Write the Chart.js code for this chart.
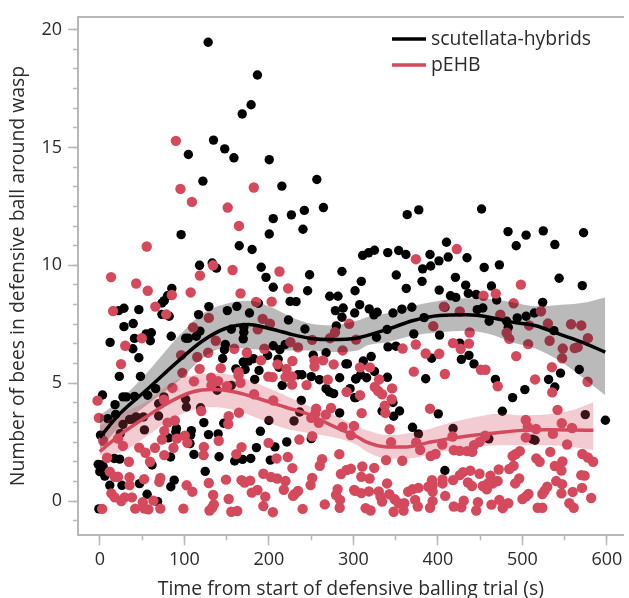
<!DOCTYPE html>
<html>
<head>
<meta charset="utf-8">
<title>Defensive ball</title>
<script src="https://cdn.jsdelivr.net/npm/chart.js@4/dist/chart.umd.min.js"></script>
<style>
  html, body { margin: 0; padding: 0; background: #fff; }
  #wrap { width: 629px; height: 598px; }
</style>
</head>
<body>
<div id="wrap"><canvas id="ball"></canvas></div>
<script>
// points: [time in s, bees in ball]
const hybridPoints = [
[128.2,19.46],[186.5,18.07],[179,16.81],[168.5,16.42],[134.5,15.31],[147.8,14.94],[104.8,14.7],[158.7,14.56],[200.5,14.48],[122,13.57],
[215.4,13.36],[256.8,13.64],[264.6,12.45],[242,12.33],[226.7,12.14],[205.2,11.98],[240.4,11.53],[200.5,11.33],[96.2,11.3],[165,10.83],
[180.2,10.67],[118,10],[133,10.1],[138,9.88],[191,9.92],[196.6,9.49],[248.2,9.6],[286.5,9.74],
[363.7,12.15],[377.4,12.35],[451.7,12.39],[483,11.43],[524.7,11.46],[572.4,11.38],[504.4,11.28],[492.7,10.83],[538.4,10.88],[410.2,10.98],
[390.7,10.46],[412.2,10.35],[401.3,10.19],[391.5,9.97],[382,9.85],[434.5,10.32],[454.8,9.91],[472.8,10.02],[311,10.42],[318,10.53],
[325,10.64],[340.7,10.54],[353.6,10.63],[362.2,10.46],[350.8,9.59],[420.8,9.49],[381.3,9.32],[543.5,9.45],[309.4,9.32],
[85.2,9.02],[80.2,8.71],[76.3,8.5],[73.5,8.4],[205.2,9.07],[245.9,8.92],[272,8.69],[281.8,8.69],[302,8.92],[225.2,8.47],
[232.2,8.46],[187.6,8.39],[129,8.25],[162.2,8.26],[150.9,8.08],[177.1,7.98],[46.2,8.12],[28.6,8.18],[22.3,8.08],[73.5,7.92],
[82.1,7.84],[116.9,7.91],[288,8.19],[278.7,8.08],[286.5,7.8],[223.2,7.68],[28.6,7.4],[39.5,7.53],[279.9,7.43],[242.7,7.3],
[155.6,7.29],[170.4,7.37],[170.4,7.16],[169.7,6.88],[118.5,7.21],[114.2,6.99],[101.6,6.91],[104.8,6.91],[84.5,6.99],[61,7.14],
[54.8,7.09],[41,6.9],[59.8,6.8],[12.2,6.73],[39.1,6.46],[46.2,6.08],[148.5,6.64],[147.4,6.42],[145.4,6.05],[205.2,6.59],
[213,6.42],[219.3,6.64],[198.6,6.18],[211,6.02],[252.5,6.19],[267.7,6.29],[291.2,5.82],[169.7,5.9],[175.9,5.94],[181.8,6.04],
[161,5.61],[172,5.58],[188.4,5.54],[211.9,5.68],[23.1,5.29],[48.1,5.29],[183.3,5.16],[234.5,5.36],[239.2,5.36],[250.2,5.28],
[259.9,5.15],[283.8,5.23],[303,5.18],[215.8,4.91],[155.6,4.91],[66.1,4.77],[56.7,4.49],[3.2,4.5],[27.4,4.42],[31.3,4.42],
[41.1,4.44],[267.7,4.77],[271.6,4.63],[276.7,4.56],[303,4.39],[138.8,4.7],[101.6,4.32],[75.9,4.42],[18,4.09],[69.6,4.13],
[102.4,3.99],[119.2,3.96],[238.4,4.27],[236.5,3.78],[283.8,3.74],[18.8,3.68],[9.4,3.5],[43,3.57],[35.2,3.46],[39.1,3.47],
[51.6,3.57],[27.4,3.25],[69.6,3.61],[123.1,3.33],[146.6,3.3],[200.1,3.42],[229.8,3.4],[52.8,3.02],[90.7,3.08],[89.9,2.94],
[108.3,2.99],[107.5,2.8],[128.6,2.82],[140,2.85],[190,2.96],[24.3,2.87],[0.8,2.8],[81.3,2.68],[221.2,2.51],[250.2,2.65],
[106.7,2.44],[207.2,2.3],[185.3,2.27],[111.4,1.98],[141.1,1.88],[83.7,1.87],[159.5,1.7],[168.9,1.77],[178.6,1.81],[201.7,1.74],
[17.2,1.81],[23.5,1.78],[2,1.53],[-1.9,1.56],[4,1.46],[61.8,1.53],[0,1.25],[5.9,1.06],[124.7,1.26],[88,0.89],
[84,0.61],[11.8,0.67],[26.2,0.67],[47,0.74],[56,0.29],[68.4,-0.02],[-1.1,-0.33],
[362.6,9.02],[401.6,8.95],[432.9,9.16],[436,8.81],[445.4,8.76],[463.4,9.12],[570.9,9.14],[414.9,8.71],[421.2,8.64],[469.6,8.53],
[524,8.43],[307.5,8.33],[301.6,7.98],[318.8,8.15],[328.2,8.01],[324.3,7.9],[346.9,7.98],[357.5,8.14],[369.2,8.22],[408.3,8.22],
[446.6,8.12],[453.2,8.19],[514.2,7.98],[504.4,7.84],[493.9,7.77],[383.7,7.78],[339.9,7.28],[327.4,6.95],[371.5,7.09],[402,7.04],
[460.7,7.63],[481.4,7.63],[483.3,7.37],[537.3,7.23],[341,6.54],[350.4,6.57],[425.9,6.7],[392.7,6.06],[427.8,6.01],[436.8,6.18],
[442.7,5.82],[321.1,6.13],[311.8,5.94],[325,5.5],[293,5.82],[340.3,5.25],[302.8,5.19],[308.6,5.36],[315.7,5.23],[385.6,5.19],
[468.1,5.16],[567.3,5.58],[545.1,5.43],[531,5.16],[538.4,4.84],[502.9,4.73],[488.4,4.39],[296.1,4.77],[301.6,4.39],[346.9,4.18],
[354.7,3.82],[347.7,3.6],[334,3.82],[400.5,3.7],[476.3,3.81],[598.2,3.43],[574.4,3.67],[370,3.13],[377,2.85],[418,3.08],
[460.3,2.64],[515,2.58],[511.8,2.63],[408.3,1.3]
];

const pehbPoints = [
[90,15.28],[95.4,13.24],[109,12.69],[182.2,13.3],[151.3,12.45],[164.6,11.67],[55.5,10.8],[134,10],[157.1,9.8],[212.6,9.74],
[118.5,9.57],[13.3,9.5],[374,10.26],[422.4,10.69],
[43,9.23],[56.7,8.92],[107.5,8.85],[85.2,8.74],[222.8,9.02],[166.5,8.81],[65.7,8.25],[15.7,8.06],[78.6,7.92],[184.9,8.45],
[203.3,8.46],[129,7.77],[192.7,7.73],[201.3,7.52],[110.3,7.37],[186.9,7.29],[295.1,7.52],[278.3,7.16],[272.4,6.91],[49.7,6.91],
[30.1,6.59],[137.2,6.8],[251.3,6.84],[225.5,6.74],[234.5,6.52],[159.1,6.46],[194.7,6.46],[287.3,6.39],[174,6.29],[128.2,6.29],
[96.2,6.19],[115.3,6.11],[190.8,5.97],[227.9,5.94],[254.1,5.97],[264.2,5.97],[25.1,5.81],[276.7,5.8],[254.1,5.71],[210.3,5.8],
[118.1,5.61],[143.1,5.64],[97.7,5.44],[220.9,5.6],[164.2,5.47],[164.2,5.33],[227.5,5.29],[219.7,5.26],[199.4,5.28],[204.4,5.26],
[111.4,5.08],[131.7,5.23],[140,5.09],[132.1,4.91],[150.5,4.87],[166.5,5.02],[227.5,4.94],[244.7,4.92],[269.7,5.15],[86,4.8],
[292,4.63],[-2.7,4.26],[75.9,4.3],[182.5,4.53],[205.2,4.27],[256,3.92],[254.9,3.71],[120,3.82],[273.6,3.95],[-1.1,3.53],
[164.6,3.75],[152.5,3.6],[267.4,3.67],[250.2,3.53],[259.1,3.32],[80.2,3.33],[88.8,3.42],[152,3.27],[287.3,3.15],[297,2.8],
[76.3,2.98],[4,2.56],[21.5,2.65],[27.4,2.34],[73.5,2.61],[91.1,2.65],[100.5,2.77],[103.6,2.47],[140.7,2.56],[251.3,2.75],
[236.1,2.61],[199.7,2.47],[46.6,2.27],[54,2.05],[65.3,2.26],[87.2,2.26],[123.1,2.3],[167.7,2.29],[76.3,1.95],[122.8,1.95],
[161.5,1.99],[283.4,1.99],[8.6,1.84],[209.1,1.81],[222.4,1.87],[263,1.78],[260.3,1.5],[34.4,1.67],[59.4,1.67],[227.9,1.4],
[297,1.37],[292,1.32],[285.3,1.15],[11.8,1.25],[193.5,1.16],[202.5,1.02],[209.9,0.96],[219.7,0.85],[251.3,0.98],[249.4,0.68],
[17.6,1.03],[21.5,1.03],[35.2,1.01],[52.4,0.93],[71.6,0.98],[70.4,0.82],[149.3,0.91],[167.7,0.89],[177.9,0.87],[171.2,0.79],
[129,0.77],[35.2,0.68],[102.8,0.67],[109.5,0.4],[217.7,0.48],[234.5,0.43],[230.6,0.3],[228.7,0.22],[186.5,0.47],[179.8,0.36],
[281.4,0.51],[301,0.47],[279.5,0.26],[134.1,0.26],[195.8,0.19],[13.7,0.33],[17.6,0.16],[25.4,0],[29.4,0.16],[38,0.16],
[152.5,0.09],[50.9,-0.05],[63.4,0.02],[284.2,0.05],[266.2,-0.14],[193.5,-0.21],[134.9,-0.14],[132.9,-0.28],[129.8,-0.4],[41.9,-0.32],
[52.8,-0.32],[57.5,-0.35],[71.6,-0.32],[98.9,-0.32],[2.8,-0.33],[155.6,-0.45],[162.6,-0.42],[204.8,-0.47],[240,-0.33],[283.8,-0.28],
[498.2,9.18],[468.5,8.8],[454,8.71],[489.6,8.39],[407.1,8.25],[425.9,8.04],[522,8.05],[473.9,7.91],[530.2,7.53],[557.6,7.5],
[569.7,7.45],[508,7.45],[394.6,7.42],[437.6,7.15],[481.4,7.14],[484.5,6.88],[577.5,6.91],[532.2,6.8],[506.8,6.66],[547.8,6.47],
[565.4,6.53],[561.9,6.49],[418,6.7],[436.8,6.68],[427,6.46],[373.9,6.64],[358.3,6.47],[303.2,6.85],[385.6,6.26],[401.6,6.25],
[492.7,6.15],[547,6.06],[307.9,5.67],[319.6,5.67],[534.9,5.68],[450.9,5.57],[456.4,5.57],[371.5,5.49],[408.3,5.39],[330.5,5.16],
[515,5.16],[577.1,5.06],[470.8,4.87],[325.4,4.84],[345.8,4.78],[329.3,4.67],[334,4.53],[307.9,4.49],[345.4,4.32],[535.3,4.61],
[337.2,4.05],[337.9,3.74],[309.8,3.73],[390.7,3.92],[541.6,3.87],[504,3.44],[546.6,3.3],[558.7,3.1],[300.8,3.19],[343,3.05],
[506.4,3.15],[516.1,3.06],[536.1,2.85],[504,2.7],[456,2.77],[417.3,2.74],[374.3,2.49],[344.6,2.5],[405.2,2.4],[449.3,2.51],
[442.7,2.37],[552.9,2.4],[379,2.17],[418.8,2.16],[425.9,2.13],[434.5,2.12],[440.7,2.09],[397.3,2],[391.5,1.91],[533,2.09],
[570.9,2],[497,2.12],[492.3,2],[488.4,1.91],[577.5,1.85],[583.7,1.67],[338.7,1.74],[357.9,1.71],[516.5,1.81],[520.4,1.67],
[547.4,1.68],[538.4,1.49],[546.2,1.3],[310.6,1.47],[324.7,1.41],[309.4,1.03],[319.2,0.96],[339.9,0.75],[472,1.34],[484.5,1.36],
[489.6,1.5],[438.4,1.29],[449.3,1.16],[462.2,1.08],[429.8,1.23],[425.9,1.1],[418,0.89],[405.5,0.92],[405.5,0.75],[393,0.89],
[496.2,0.96],[491.5,0.75],[435.6,0.79],[440.3,0.64],[470.8,0.85],[465,0.75],[459.1,0.75],[453.2,0.64],[457.9,0.5],[540,0.85],
[547,0.72],[573.6,1.08],[569.7,1.1],[570.5,0.56],[546.2,0.33],[559.5,0.39],[529.4,0.61],[526.3,0.44],[523.6,0.3],[507.2,0.3],
[504,0.19],[500.1,0.09],[581.4,0.13],[302,0.44],[309.4,0.34],[318.4,0.41],[330.1,0.41],[332.1,0.19],[334,-0.02],[342.6,0.29],
[348.9,0.08],[353.6,-0.09],[360.2,-0.09],[364.9,0.4],[370,0.5],[377,0.56],[388.7,0.61],[393.8,0.68],[393.8,0.4],[408.7,0.22],
[373.1,0.05],[376.2,-0.23],[393.8,0],[390.7,-0.28],[430.6,0.02],[427.8,-0.26],[418.8,-0.23],[447.4,-0.05],[445.4,-0.4],[463.4,-0.15],
[472.8,0.05],[483.3,-0.09],[476.7,-0.3],[314.5,-0.3],[320.4,-0.4],[347.7,-0.45],[359.4,-0.4],[518.1,-0.28],[523.6,-0.28],[555.6,-0.09],[560.7,-0.28]
];

// smooth fits and their confidence bands
const hybridTimes = [0,23.5,54.8,93.8,121,148.5,176,203,227,250,273.6,305,316,340,371,402,434,461,488,516,543,570.5,598];
const hybridLine = [2.7,3.7,4.7,5.97,6.78,7.32,7.49,7.3,7.07,6.9,6.85,6.92,7.02,7.28,7.66,7.87,7.9,7.8,7.59,7.44,7.09,6.74,6.32];
const hybridUpper = [3.64,4.27,5.4,7.02,7.94,8.36,8.5,8.22,7.8,7.52,7.45,7.66,7.8,7.97,8.29,8.5,8.6,8.57,8.43,8.26,8.32,8.4,8.64];
const hybridLower = [2.2,3.15,4.06,5.12,6.04,6.5,6.46,6.39,6.39,6.39,6.32,6.39,6.6,6.74,7.02,7.16,7.23,7.09,6.74,6.46,5.97,5.26,4.49];

const pehbTimes = [0,23.5,54.8,86,109.5,133,160,187.6,219,250,273.6,305,316,340,363,387,414,445,473,500,527.5,559,584];
const pehbLine = [2.1,2.8,3.57,4.27,4.63,4.73,4.63,4.35,3.99,3.64,3.22,2.72,2.5,2.3,2.3,2.47,2.65,2.8,2.91,3,3.03,3.02,3];
const pehbUpper = [3.2,3.7,4.2,5.05,5.33,5.4,5.33,4.98,4.49,3.99,3.71,3.15,3,2.8,2.87,3.03,3.32,3.57,3.71,3.64,3.67,3.85,4.2];
const pehbLower = [1.95,2.05,2.73,3.5,3.85,3.99,3.85,3.5,3.08,2.87,2.73,2.37,2.09,1.81,1.81,1.95,2.16,2.3,2.37,2.37,2.37,2.3,2.16];

const legendNames = ['scutellata-hybrids', 'pEHB'];

const black = '#000000';
const red = '#d5495d';
const axisGrey = '#b8b8b8';
const fontName = '"Open Sans", sans-serif';
const textColor = '#2b2b2b';
const titleSize = 19.4;

const toXY = (xs, ys) => xs.map((x, i) => ({ x, y: ys[i] }));
const pairs = (list) => list.map((p) => ({ x: p[0], y: p[1] }));

function dots(list, color, radius, order) {
  return { data: pairs(list), backgroundColor: color, borderWidth: 0, pointBorderWidth: 0, pointRadius: radius, pointHoverRadius: radius, showLine: false, order };
}
function curve(xs, ys, color, order) {
  return { data: toXY(xs, ys), showLine: true, borderColor: color, borderWidth: 3.5, pointRadius: 0, fill: false, cubicInterpolationMode: 'monotone', order };
}
function bandEdge(xs, ys, fill, order, fillTarget) {
  return { data: toXY(xs, ys), showLine: true, borderWidth: 0, borderColor: 'transparent', pointRadius: 0, backgroundColor: fill, fill: fillTarget, cubicInterpolationMode: 'monotone', order };
}

// legend sits inside the plot, drawn at the end
const insideLegend = {
  id: 'insideLegend',
  afterDraw(chart) {
    const c = chart.ctx;
    c.save();
    c.font = titleSize + 'px ' + fontName;
    c.fillStyle = textColor;
    c.textBaseline = 'middle';
    c.lineWidth = 3.5;
    [[legendNames[0], black, 39], [legendNames[1], red, 65]].forEach((row) => {
      c.strokeStyle = row[1];
      c.beginPath();
      c.moveTo(392, row[2]);
      c.lineTo(426, row[2]);
      c.stroke();
      c.fillText(row[0], 431, row[2]);
    });
    c.restore();
  }
};

const xMin = -25.8, xMax = 620, yMin = -1.45, yMax = 20.54;

const config = {
  type: 'scatter',
  data: {
    datasets: [
      dots(hybridPoints, black, 4.7, 10),
      dots(pehbPoints, red, 5.2, 9),
      bandEdge(hybridTimes, hybridUpper, 'rgba(0,0,0,0.27)', 8, '+1'),
      bandEdge(hybridTimes, hybridLower, 'transparent', 8, false),
      bandEdge(pehbTimes, pehbUpper, 'rgba(213,73,93,0.28)', 7, '+1'),
      bandEdge(pehbTimes, pehbLower, 'transparent', 7, false),
      curve(pehbTimes, pehbLine, red, 2),
      curve(hybridTimes, hybridLine, black, 1)
    ]
  },
  options: {
    responsive: false,
    animation: false,
    layout: { padding: { top: 16, right: 0, left: 0, bottom: 0 } },
    plugins: { legend: { display: false }, tooltip: { enabled: false } },
    scales: {
      x: {
        type: 'linear', position: 'bottom', min: xMin, max: xMax,
        afterFit: (s) => { s.height = 62.7; },
        border: { color: axisGrey, width: 2 },
        grid: { drawOnChartArea: false, tickLength: 10, tickColor: axisGrey, tickWidth: 1.5 },
        ticks: { stepSize: 100, includeBounds: false, color: textColor, font: { family: fontName, size: 18 }, padding: 4, maxRotation: 0 },
        title: { display: true, text: 'Time from start of defensive balling trial (s)', color: textColor, font: { family: fontName, size: titleSize }, padding: { top: 0, bottom: -3 } }
      },
      y: {
        type: 'linear', position: 'left', min: yMin, max: yMax,
        afterFit: (s) => { s.width = 78; },
        border: { color: axisGrey, width: 2 },
        grid: { drawOnChartArea: false, tickLength: 10, tickColor: axisGrey, tickWidth: 1.5 },
        ticks: { stepSize: 5, includeBounds: false, color: textColor, font: { family: fontName, size: 18 }, padding: 6 },
        title: { display: true, text: 'Number of bees in defensive ball around wasp', color: textColor, font: { family: fontName, size: titleSize }, padding: { top: 7, bottom: 0 } }
      },
      // second axes only carry the short minor ticks
      xMinor: {
        type: 'linear', position: 'bottom', min: xMin, max: xMax, weight: -1,
        afterFit: (s) => { s.height = 0; },
        border: { display: false },
        grid: { drawOnChartArea: false, tickLength: 5, tickColor: axisGrey, tickWidth: 1.5 },
        ticks: { stepSize: 50, includeBounds: false, autoSkip: false, display: false }
      },
      yMinor: {
        type: 'linear', position: 'left', min: yMin, max: yMax, weight: -1,
        afterFit: (s) => { s.width = 0; },
        border: { display: false },
        grid: { drawOnChartArea: false, tickLength: 5, tickColor: axisGrey, tickWidth: 1.5 },
        ticks: { stepSize: 5 / 6, includeBounds: false, autoSkip: false, display: false }
      },
      xTop: {
        type: 'linear', position: 'top', min: xMin, max: xMax,
        afterFit: (s) => { s.height = 0; },
        border: { color: axisGrey, width: 2 },
        grid: { display: true, drawOnChartArea: false, drawTicks: false },
        ticks: { display: false }
      }
    }
  },
  plugins: [insideLegend]
};

const canvas = document.getElementById('ball');
canvas.width = 629;
canvas.height = 598;
const chart = new Chart(canvas, config);
</script>
</body>
</html>
